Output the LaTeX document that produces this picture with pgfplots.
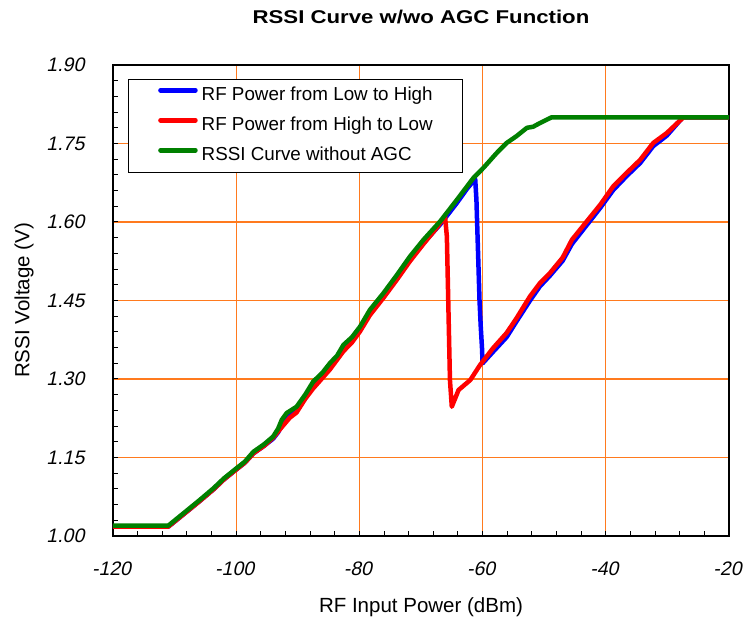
\documentclass[border=0pt]{standalone}
\usepackage{fontspec}
\setmainfont{Liberation Sans}
\usepackage{graphicx}
\usepackage{pgfplots}
\pgfplotsset{compat=1.18}

\definecolor{gridorange}{RGB}{255,122,30}
\definecolor{rssiblue}{RGB}{0,0,255}
\definecolor{rssired}{RGB}{255,0,0}
\definecolor{rssigreen}{RGB}{0,128,0}

\begin{document}
\begin{tikzpicture}
\begin{axis}[
  scale only axis,
  width=616pt, height=471pt,
  xmin=-120, xmax=-20, ymin=1.0, ymax=1.9,
  xtick={-120,-100,-80,-60,-40,-20},
  xticklabels={-120,-100,-80,-60,-40,-20},
  ytick={1.00,1.15,1.30,1.45,1.60,1.75,1.90},
  yticklabels={1.00,1.15,1.30,1.45,1.60,1.75,1.90},
  minor x tick num=4, minor y tick num=4,
  xtick pos=bottom, ytick pos=left,
  tick align=inside,
  major tick length=5pt, minor tick length=5pt,
  tick style={black, line width=1pt},
  grid=major,
  major grid style={gridorange, line width=1.2pt},
  axis line style={black, line width=1.5pt},
  ticklabel style={font=\fontsize{19.5}{22}\selectfont, xslant=0.21},
  xticklabel style={anchor=center, yshift=-33pt, xshift=6.9pt},
  yticklabel style={anchor=east, inner xsep=0pt, xshift=-27pt},
  title={\scalebox{1.2}[1]{\bfseries RSSI Curve w/wo AGC Function}},
  title style={font=\fontsize{18.5}{22}\selectfont, at={(axis description cs:0.5,1.09)}, anchor=center},
  xlabel={RF Input Power (dBm)},
  xlabel style={font=\fontsize{20.5}{24}\selectfont, at={(axis description cs:0.5,-0.152)}, anchor=center},
  ylabel={RSSI Voltage (V)},
  ylabel style={font=\fontsize{20.5}{24}\selectfont, at={(axis description cs:-0.1445,0.5)}, anchor=center},
  legend style={
    at={(axis description cs:0.0239,0.9696)}, anchor=north west,
    draw=black, line width=1pt, fill=white,
    font=\fontsize{18.8}{22}\selectfont,
    inner xsep=30pt, inner ysep=7.5pt,
    nodes={inner sep=0pt, text height=13pt, text depth=5pt},
    row sep=12pt,
    /tikz/every odd column/.append style={column sep=4pt},
  },
  legend cell align=left,
  legend image code/.code={
    \draw[#1, line width=4.5pt, line cap=round] (0pt,6pt) -- (35pt,6pt);
  },
]

% RF power swept upwards
\addplot[rssiblue, line width=4.5pt, line join=round] coordinates {
  (-120,1.018) (-111,1.018) (-108.6,1.041) (-106,1.066) (-103.7,1.089)
  (-102,1.108) (-100,1.127) (-98.6,1.140) (-97.2,1.158) (-95.5,1.172)
  (-94,1.186) (-93.2,1.198) (-92.6,1.212) (-91.8,1.226) (-90.2,1.240)
  (-88.8,1.263) (-87.5,1.288) (-86,1.305) (-84.8,1.323) (-83.6,1.339)
  (-82.6,1.358) (-81.2,1.373) (-79.9,1.393) (-78.3,1.425) (-76.1,1.457)
  (-73.9,1.492) (-71.8,1.527) (-69.6,1.560) (-66.9,1.595) (-64.2,1.636)
  (-62.5,1.664) (-61.2,1.682)
  (-61.0,1.642) (-60.5,1.450) (-60.3,1.400) (-60.1,1.360) (-60.0,1.330)
  (-58.3,1.352) (-56.1,1.380) (-54.5,1.410) (-52.3,1.450) (-50.7,1.477)
  (-49.1,1.497) (-47.0,1.526) (-45.5,1.558) (-43.1,1.594) (-40.9,1.627)
  (-38.8,1.661) (-36.6,1.688) (-34.4,1.713) (-32.3,1.745) (-30.1,1.765)
  (-27.5,1.800) (-20,1.800)
};
\addlegendentry{RF Power from Low to High}

% RF power swept downwards
\addplot[rssired, line width=4.5pt, line join=round] coordinates {
  (-20,1.800) (-27.4,1.800) (-30.1,1.770) (-32.3,1.751) (-34.4,1.719)
  (-36.6,1.694) (-38.8,1.668) (-40.9,1.633) (-43.1,1.601) (-45.5,1.566)
  (-47.0,1.532) (-49.1,1.502) (-50.7,1.483) (-52.3,1.458) (-54.5,1.416)
  (-56.1,1.388) (-58.3,1.359) (-60.4,1.327) (-62.0,1.298) (-63.9,1.279)
  (-65.0,1.247) (-65.3,1.298) (-65.8,1.572) (-66.1,1.611)
  (-67.5,1.588) (-69.6,1.558) (-71.8,1.525) (-73.9,1.490) (-76.1,1.455)
  (-78.3,1.422) (-79.9,1.391) (-81.2,1.370) (-82.6,1.353) (-84.8,1.318)
  (-87.5,1.282) (-88.8,1.262) (-90.2,1.236) (-91.3,1.226) (-92.6,1.208)
  (-94,1.188) (-95.5,1.172) (-97.2,1.158) (-98.6,1.140) (-100,1.127)
  (-102,1.108) (-103.7,1.089) (-106,1.066) (-108.6,1.041) (-111,1.018)
  (-120,1.018)
};
\addlegendentry{RF Power from High to Low}

% reference curve, AGC off
\addplot[rssigreen, line width=4.5pt, line join=round] coordinates {
  (-120,1.020) (-111,1.020) (-108.6,1.043) (-106,1.068) (-103.7,1.091)
  (-102,1.110) (-100,1.129) (-98.6,1.142) (-97.2,1.161) (-95.5,1.175)
  (-94,1.190) (-93.2,1.205) (-92.6,1.222) (-91.8,1.235) (-90.2,1.247)
  (-88.8,1.270) (-87.5,1.295) (-86,1.312) (-84.8,1.330) (-83.6,1.345)
  (-82.6,1.365) (-81.2,1.380) (-79.9,1.400) (-78.3,1.432) (-76.1,1.464)
  (-73.9,1.499) (-71.8,1.534) (-69.6,1.566) (-66.9,1.601) (-64.2,1.642)
  (-61.5,1.684) (-59.9,1.703) (-57.7,1.732) (-56.1,1.751) (-54.5,1.764)
  (-52.8,1.780) (-51.8,1.782) (-50.7,1.789) (-48.8,1.800) (-20,1.800)
};
\addlegendentry{RSSI Curve without AGC}

\end{axis}
\pgfresetboundingbox
\path[use as bounding box] (-113pt,-82pt) rectangle (632pt,536pt);
\end{tikzpicture}
\end{document}
